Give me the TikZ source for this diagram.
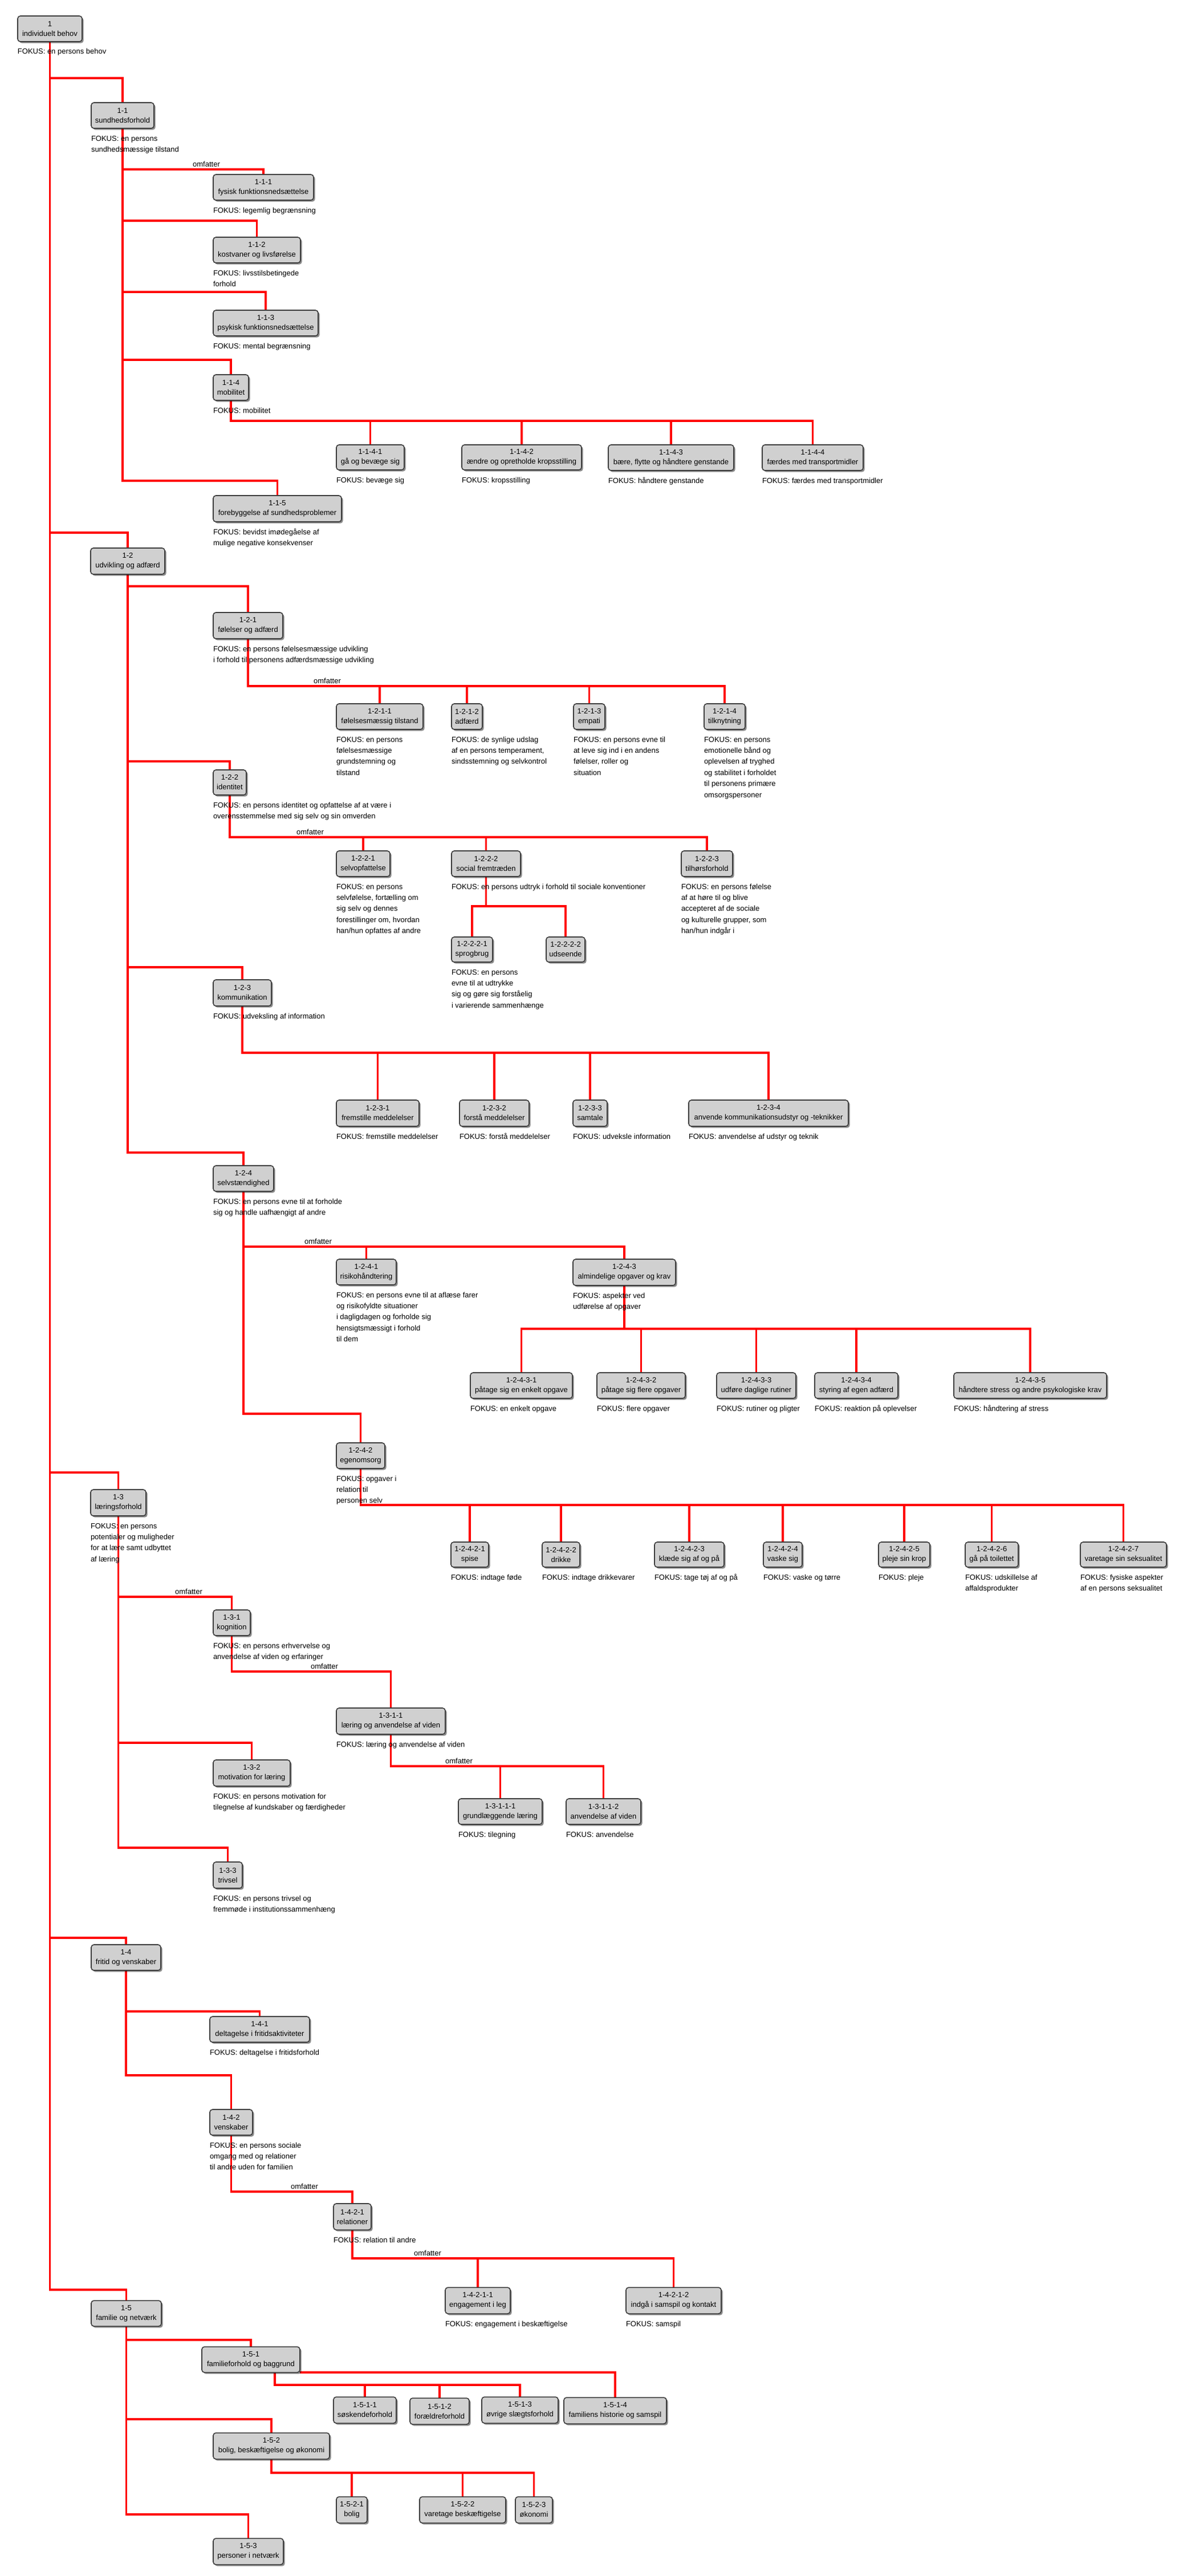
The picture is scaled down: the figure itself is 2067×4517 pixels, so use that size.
\documentclass[tikz,border=0pt]{standalone}
\usepackage{fontspec}
\setmainfont{Liberation Sans}
\usetikzlibrary{shadows,backgrounds}
\definecolor{boxfill}{RGB}{208,208,208}
\definecolor{boxline}{RGB}{60,60,60}
\definecolor{linkred}{RGB}{255,0,0}
\tikzset{
 box/.style={draw=boxline, line width=1.2pt, fill=boxfill, rounded corners=3.5pt, inner sep=0pt, outer sep=0pt, align=center, text=black,
   font=\fontsize{9.75pt}{12.75pt}\selectfont,
   drop shadow={shadow xshift=2pt, shadow yshift=-2pt, opacity=0.45, fill=black}},
 fokus/.style={anchor=north west, inner sep=0pt, outer sep=0pt, align=left, font=\fontsize{9.75pt}{14.6pt}\selectfont},
 lbl/.style={anchor=base, inner sep=0pt, font=\fontsize{9.75pt}{14.6pt}\selectfont},
 link/.style={draw=linkred, line width=2.4pt},
}
\newcommand\bx[7]{\node[box, minimum width={(#4-#2)*0.75pt}, minimum height={(#5-#3)*0.75pt}] (#1) at ({(#2+#4)/2},{(#3+#5)/2}) {#6\\#7};}
\newcommand\fk[2]{\node[fokus] (f#1) at ([yshift=-6pt]#1.south west) {\rule{0pt}{10.5pt}#2};}
\newcommand\lnk[3]{\coordinate (tmpL) at (0,#3); \draw[link] (#1.south) -- (#1.south |- tmpL) -| (#2.north);}
\newcommand\omf[3]{\node[lbl] (#1) at (#2,{#3-4.5}) {omfatter};}
\begin{document}
\begin{tikzpicture}[x=0.75pt,y=-0.75pt]
\useasboundingbox (0,0) rectangle (2067,4517);
% ---------- level 1
\bx{n1}{31}{28}{144}{73}{1}{individuelt behov}
\fk{n1}{FOKUS: en persons behov}
% ---------- 1-1
\bx{n11}{160}{180}{270}{225}{1-1}{sundhedsforhold}
\fk{n11}{FOKUS: en persons\\sundhedsmæssige tilstand}
\bx{n111}{374}{306}{550}{351}{1-1-1}{fysisk funktionsnedsættelse}
\fk{n111}{FOKUS: legemlig begrænsning}
\bx{n112}{374}{416}{527}{461}{1-1-2}{kostvaner og livsførelse}
\fk{n112}{FOKUS: livsstilsbetingede\\forhold}
\bx{n113}{374}{544}{558}{589}{1-1-3}{psykisk funktionsnedsættelse}
\fk{n113}{FOKUS: mental begrænsning}
\bx{n114}{374}{657}{436}{702}{1-1-4}{mobilitet}
\fk{n114}{FOKUS: mobilitet}
\bx{n1141}{590}{780}{709}{824}{1-1-4-1}{gå og bevæge sig}
\fk{n1141}{FOKUS: bevæge sig}
\bx{n1142}{810}{780}{1020}{824}{1-1-4-2}{ændre og opretholde kropsstilling}
\fk{n1142}{FOKUS: kropsstilling}
\bx{n1143}{1067}{780}{1287}{825}{1-1-4-3}{bære, flytte og håndtere genstande}
\fk{n1143}{FOKUS: håndtere genstande}
\bx{n1144}{1337}{780}{1514}{825}{1-1-4-4}{færdes med transportmidler}
\fk{n1144}{FOKUS: færdes med transportmidler}
\bx{n115}{374}{869}{599}{915}{1-1-5}{forebyggelse af sundhedsproblemer}
\fk{n115}{FOKUS: bevidst imødegåelse af\\mulige negative konsekvenser}
% ---------- 1-2
\bx{n12}{159}{961}{289}{1007}{1-2}{udvikling og adfærd}
\bx{n121}{374}{1074}{496}{1120}{1-2-1}{følelser og adfærd}
\fk{n121}{FOKUS: en persons følelsesmæssige udvikling\\i forhold til personens adfærdsmæssige udvikling}
\bx{n1211}{590}{1234}{742}{1279}{1-2-1-1}{følelsesmæssig tilstand}
\fk{n1211}{FOKUS: en persons\\følelsesmæssige\\grundstemning og\\tilstand}
\bx{n1212}{792}{1234}{846}{1279}{1-2-1-2}{adfærd}
\fk{n1212}{FOKUS: de synlige udslag\\af en persons temperament,\\sindsstemning og selvkontrol}
\bx{n1213}{1006}{1234}{1061}{1279}{1-2-1-3}{empati}
\fk{n1213}{FOKUS: en persons evne til\\at leve sig ind i en andens\\følelser, roller og\\situation}
\bx{n1214}{1235}{1234}{1307}{1279}{1-2-1-4}{tilknytning}
\fk{n1214}{FOKUS: en persons\\emotionelle bånd og\\oplevelsen af tryghed\\og stabilitet i forholdet\\til personens primære\\omsorgspersoner}
\bx{n122}{374}{1350}{432}{1394}{1-2-2}{identitet}
\fk{n122}{FOKUS: en persons identitet og opfattelse af at være i\\overensstemmelse med sig selv og sin omverden}
\bx{n1221}{590}{1492}{684}{1537}{1-2-2-1}{selvopfattelse}
\fk{n1221}{FOKUS: en persons\\selvfølelse, fortælling om\\sig selv og dennes\\forestillinger om, hvordan\\han/hun opfattes af andre}
\bx{n1222}{792}{1492}{913}{1537}{1-2-2-2}{social fremtræden}
\fk{n1222}{FOKUS: en persons udtryk i forhold til sociale konventioner}
\bx{n1223}{1195}{1492}{1285}{1537}{1-2-2-3}{tilhørsforhold}
\fk{n1223}{FOKUS: en persons følelse\\af at høre til og blive\\accepteret af de sociale\\og kulturelle grupper, som\\han/hun indgår i}
\bx{n12221}{792}{1643}{864}{1687}{1-2-2-2-1}{sprogbrug}
\fk{n12221}{FOKUS: en persons\\evne til at udtrykke\\sig og gøre sig forståelig\\i varierende sammenhænge}
\bx{n12222}{958}{1643}{1026}{1687}{1-2-2-2-2}{udseende}
\bx{n123}{374}{1718}{476}{1764}{1-2-3}{kommunikation}
\fk{n123}{FOKUS: udveksling af information}
\bx{n1231}{590}{1929}{735}{1975}{1-2-3-1}{fremstille meddelelser}
\fk{n1231}{FOKUS: fremstille meddelelser}
\bx{n1232}{806}{1929}{928}{1975}{1-2-3-2}{forstå meddelelser}
\fk{n1232}{FOKUS: forstå meddelelser}
\bx{n1233}{1005}{1929}{1065}{1975}{1-2-3-3}{samtale}
\fk{n1233}{FOKUS: udveksle information}
\bx{n1234}{1208}{1929}{1488}{1975}{1-2-3-4}{anvende kommunikationsudstyr og -teknikker}
\fk{n1234}{FOKUS: anvendelse af udstyr og teknik}
\bx{n124}{374}{2044}{480}{2089}{1-2-4}{selvstændighed}
\fk{n124}{FOKUS: en persons evne til at forholde\\sig og handle uafhængigt af andre}
\bx{n1241}{590}{2208}{695}{2253}{1-2-4-1}{risikohåndtering}
\fk{n1241}{FOKUS: en persons evne til at aflæse farer\\og risikofyldte situationer\\i dagligdagen og forholde sig\\hensigtsmæssigt i forhold\\til dem}
\bx{n1243}{1005}{2208}{1185}{2254}{1-2-4-3}{almindelige opgaver og krav}
\fk{n1243}{FOKUS: aspekter ved\\udførelse af opgaver}
\bx{n12431}{825}{2407}{1004}{2452}{1-2-4-3-1}{påtage sig en enkelt opgave}
\fk{n12431}{FOKUS: en enkelt opgave}
\bx{n12432}{1047}{2407}{1202}{2452}{1-2-4-3-2}{påtage sig flere opgaver}
\fk{n12432}{FOKUS: flere opgaver}
\bx{n12433}{1257}{2407}{1396}{2452}{1-2-4-3-3}{udføre daglige rutiner}
\fk{n12433}{FOKUS: rutiner og pligter}
\bx{n12434}{1429}{2407}{1575}{2452}{1-2-4-3-4}{styring af egen adfærd}
\fk{n12434}{FOKUS: reaktion på oplevelser}
\bx{n12435}{1673}{2407}{1941}{2452}{1-2-4-3-5}{håndtere stress og andre psykologiske krav}
\fk{n12435}{FOKUS: håndtering af stress}
\bx{n1242}{590}{2530}{675}{2575}{1-2-4-2}{egenomsorg}
\fk{n1242}{FOKUS: opgaver i\\relation til\\personen selv}
\bx{n12421}{791}{2704}{857}{2748}{1-2-4-2-1}{spise}
\fk{n12421}{FOKUS: indtage føde}
\bx{n12422}{951}{2704}{1017}{2748}{1-2-4-2-2}{drikke}
\fk{n12422}{FOKUS: indtage drikkevarer}
\bx{n12423}{1148}{2704}{1270}{2748}{1-2-4-2-3}{klæde sig af og på}
\fk{n12423}{FOKUS: tage tøj af og på}
\bx{n12424}{1339}{2704}{1407}{2748}{1-2-4-2-4}{vaske sig}
\fk{n12424}{FOKUS: vaske og tørre}
\bx{n12425}{1541}{2704}{1631}{2748}{1-2-4-2-5}{pleje sin krop}
\fk{n12425}{FOKUS: pleje}
\bx{n12426}{1693}{2704}{1786}{2748}{1-2-4-2-6}{gå på toilettet}
\fk{n12426}{FOKUS: udskillelse af\\affaldsprodukter}
\bx{n12427}{1895}{2704}{2046}{2748}{1-2-4-2-7}{varetage sin seksualitet}
\fk{n12427}{FOKUS: fysiske aspekter\\af en persons seksualitet}
% ---------- 1-3
\bx{n13}{159}{2612}{256}{2658}{1-3}{læringsforhold}
\fk{n13}{FOKUS: en persons\\potentialer og muligheder\\for at lære samt udbyttet\\af læring}
\bx{n131}{374}{2823}{439}{2868}{1-3-1}{kognition}
\fk{n131}{FOKUS: en persons erhvervelse og\\anvendelse af viden og erfaringer}
\bx{n1311}{590}{2995}{781}{3041}{1-3-1-1}{læring og anvendelse af viden}
\fk{n1311}{FOKUS: læring og anvendelse af viden}
\bx{n13111}{804}{3154}{951}{3199}{1-3-1-1-1}{grundlæggende læring}
\fk{n13111}{FOKUS: tilegning}
\bx{n13112}{993}{3154}{1124}{3199}{1-3-1-1-2}{anvendelse af viden}
\fk{n13112}{FOKUS: anvendelse}
\bx{n132}{374}{3086}{509}{3132}{1-3-2}{motivation for læring}
\fk{n132}{FOKUS: en persons motivation for\\tilegnelse af kundskaber og færdigheder}
\bx{n133}{374}{3265}{425}{3311}{1-3-3}{trivsel}
\fk{n133}{FOKUS: en persons trivsel og\\fremmøde i institutionssammenhæng}
% ---------- 1-4
\bx{n14}{160}{3410}{282}{3455}{1-4}{fritid og venskaber}
\bx{n141}{368}{3536}{543}{3581}{1-4-1}{deltagelse i fritidsaktiviteter}
\fk{n141}{FOKUS: deltagelse i fritidsforhold}
\bx{n142}{368}{3699}{443}{3744}{1-4-2}{venskaber}
\fk{n142}{FOKUS: en persons sociale\\omgang med og relationer\\til andre uden for familien}
\bx{n1421}{585}{3864}{651}{3910}{1-4-2-1}{relationer}
\fk{n1421}{FOKUS: relation til andre}
\bx{n14211}{781}{4011}{895}{4057}{1-4-2-1-1}{engagement i leg}
\fk{n14211}{FOKUS: engagement i beskæftigelse}
\bx{n14212}{1098}{4011}{1265}{4057}{1-4-2-1-2}{indgå i samspil og kontakt}
\fk{n14212}{FOKUS: samspil}
% ---------- 1-5
\bx{n15}{160}{4034}{283}{4079}{1-5}{familie og netværk}
\bx{n151}{354}{4115}{526}{4160}{1-5-1}{familieforhold og baggrund}
\bx{n1511}{585}{4203}{695}{4249}{1-5-1-1}{søskendeforhold}
\bx{n1512}{719}{4205}{823}{4251}{1-5-1-2}{forældreforhold}
\bx{n1513}{845}{4203}{979}{4249}{1-5-1-3}{øvrige slægtsforhold}
\bx{n1514}{989}{4204}{1169}{4250}{1-5-1-4}{familiens historie og samspil}
\bx{n152}{374}{4266}{578}{4312}{1-5-2}{bolig, beskæftigelse og økonomi}
\bx{n1521}{590}{4378}{644}{4424}{1-5-2-1}{bolig}
\bx{n1522}{736}{4378}{887}{4424}{1-5-2-2}{varetage beskæftigelse}
\bx{n1523}{904}{4378}{969}{4424}{1-5-2-3}{økonomi}
\bx{n153}{374}{4451}{497}{4497}{1-5-3}{personer i netværk}
% ---------- labels
\omf{o1}{362}{297}
\omf{o2}{574}{1203}
\omf{o3}{544}{1468}
\omf{o4}{558}{2186}
\omf{o5}{331}{2800}
\omf{o6}{569}{2931}
\omf{o7}{805}{3097}
\omf{o8}{534}{3843}
\omf{o9}{750}{3960}
% ---------- connectors
\begin{pgfonlayer}{background}
\lnk{n1}{n11}{137}\lnk{n1}{n12}{934}\lnk{n1}{n13}{2582}\lnk{n1}{n14}{3398}\lnk{n1}{n15}{4015}
\lnk{n11}{n111}{297}\lnk{n11}{n112}{387}\lnk{n11}{n113}{512}\lnk{n11}{n114}{631}\lnk{n11}{n115}{843}
\lnk{n114}{n1141}{738}\lnk{n114}{n1142}{738}\lnk{n114}{n1143}{738}\lnk{n114}{n1144}{738}
\lnk{n12}{n121}{1028}\lnk{n12}{n122}{1335}\lnk{n12}{n123}{1696}\lnk{n12}{n124}{2021}
\lnk{n121}{n1211}{1203}\lnk{n121}{n1212}{1203}\lnk{n121}{n1213}{1203}\lnk{n121}{n1214}{1203}
\lnk{n122}{n1221}{1468}\lnk{n122}{n1222}{1468}\lnk{n122}{n1223}{1468}
\lnk{n1222}{n12221}{1589}\lnk{n1222}{n12222}{1589}
\lnk{n123}{n1231}{1846}\lnk{n123}{n1232}{1846}\lnk{n123}{n1233}{1846}\lnk{n123}{n1234}{1846}
\lnk{n124}{n1241}{2186}\lnk{n124}{n1243}{2186}\lnk{n124}{n1242}{2479}
\lnk{n1243}{n12431}{2330}\lnk{n1243}{n12432}{2330}\lnk{n1243}{n12433}{2330}\lnk{n1243}{n12434}{2330}\lnk{n1243}{n12435}{2330}
\lnk{n1242}{n12421}{2639}\lnk{n1242}{n12422}{2639}\lnk{n1242}{n12423}{2639}\lnk{n1242}{n12424}{2639}\lnk{n1242}{n12425}{2639}\lnk{n1242}{n12426}{2639}\lnk{n1242}{n12427}{2639}
\lnk{n13}{n131}{2800}\lnk{n13}{n132}{3056}\lnk{n13}{n133}{3240}
\lnk{n131}{n1311}{2931}
\lnk{n1311}{n13111}{3097}\lnk{n1311}{n13112}{3097}
\lnk{n14}{n141}{3527}\lnk{n14}{n142}{3639}
\lnk{n142}{n1421}{3843}
\lnk{n1421}{n14211}{3960}\lnk{n1421}{n14212}{3960}
\lnk{n15}{n151}{4103}\lnk{n15}{n152}{4242}\lnk{n15}{n153}{4409}
\coordinate (s151) at (482,4160);
\coordinate (b151) at (0,4182);
\draw[link] (s151) -- (s151 |- b151) -| (n1511.north);
\draw[link] (s151) -- (s151 |- b151) -| (n1512.north);
\draw[link] (s151) -- (s151 |- b151) -| (n1513.north);
\draw[link] (n151.south east) -| (n1514.north);
\lnk{n152}{n1521}{4336}\lnk{n152}{n1522}{4336}\lnk{n152}{n1523}{4336}
\end{pgfonlayer}
\end{tikzpicture}
\end{document}
